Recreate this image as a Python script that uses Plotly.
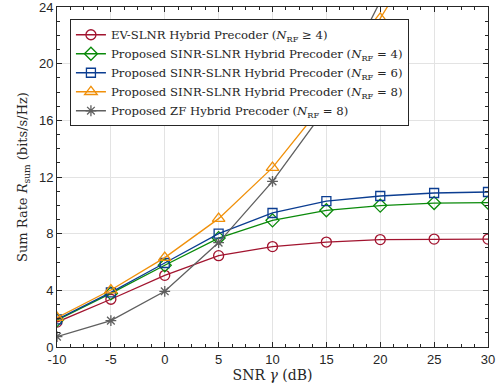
import plotly.graph_objects as go

snr = [-10, -5, 0, 5, 10, 15, 20, 25, 30]
ev_slnr = [1.76, 3.37, 5.06, 6.45, 7.09, 7.41, 7.58, 7.62, 7.62]
sinr_slnr_4 = [1.90, 3.78, 5.77, 7.69, 8.94, 9.65, 9.98, 10.16, 10.19]
sinr_slnr_6 = [1.95, 3.86, 5.93, 8.00, 9.46, 10.30, 10.66, 10.87, 10.94]
sinr_slnr_8 = [2.07, 4.02, 6.31, 9.06, 12.66, 17.4, 23.2, 29.6, 35.5]
zf_8 = [0.73, 1.86, 3.93, 7.37, 11.69, 16.9, 24.4, 31.5, 38.0]

names = [
    "EV-SLNR Hybrid Precoder (<i>N</i><sub>RF</sub> ≥ 4)",
    "Proposed SINR-SLNR Hybrid Precoder (<i>N</i><sub>RF</sub> = 4)",
    "Proposed SINR-SLNR Hybrid Precoder (<i>N</i><sub>RF</sub> = 6)",
    "Proposed SINR-SLNR Hybrid Precoder (<i>N</i><sub>RF</sub> = 8)",
    "Proposed ZF Hybrid Precoder (<i>N</i><sub>RF</sub> = 8)",
]
series = [ev_slnr, sinr_slnr_4, sinr_slnr_6, sinr_slnr_8, zf_8]
colors = ["#A2142F", "#0A8A0A", "#0B3D91", "#F0900A", "#5F5F5F"]
symbols = ["circle-open", "diamond-open", "square-open", "triangle-up-open", "asterisk-open"]
sizes = [10, 10, 9, 11, 9]

SERIF = "DejaVu Serif"
SANS = "Liberation Sans"

fig = go.Figure()
for n, ys, c, s, sz in zip(names, series, colors, symbols, sizes):
    fig.add_trace(go.Scatter(
        x=snr, y=ys, name=n, mode="lines+markers",
        line=dict(color=c, width=1.3),
        marker=dict(symbol=s, size=sz, color=c, line=dict(color=c, width=1.3)),
        cliponaxis=True,
    ))

axis_common = dict(
    showline=True, linecolor="#262626", linewidth=1, mirror="allticks",
    ticks="inside", ticklen=5, tickcolor="#262626", automargin=False,
    ticklabeloverflow="allow",
    showgrid=True, gridcolor="#E3E3E3", gridwidth=1, zeroline=False,
    tickfont=dict(family=SANS, size=13, color="#262626"),
)

fig.update_xaxes(
    range=[-10, 30], tickmode="array", tickvals=[-10, -5, 0, 5, 10, 15, 20, 25, 30],
    ticktext=["-10", "-5", "0", "5", "10", "15", "20", "25", "30"],
    minor=dict(dtick=1.25, tick0=-10, ticks="inside", ticklen=3, tickcolor="#262626", showgrid=False),
    title=dict(text="SNR <i>γ</i> (dB)", font=dict(family=SERIF, size=14, color="#262626"), standoff=2),
    **axis_common,
)
fig.update_yaxes(
    range=[0, 24], tickmode="array", tickvals=[0, 4, 8, 12, 16, 20, 24],
    minor=dict(dtick=1, tick0=0, ticks="inside", ticklen=3, tickcolor="#262626", showgrid=False),
    title=dict(text="Sum Rate <i>R</i><sub>sum</sub> (bits/s/Hz)", font=dict(family=SERIF, size=13, color="#262626"), standoff=8),
    **axis_common,
)

fig.update_layout(
    width=500, height=391,
    margin=dict(l=57, r=12, t=7, b=44),
    paper_bgcolor="white", plot_bgcolor="white",
    showlegend=True,
    legend=dict(
        x=0.03, y=0.964, xanchor="left", yanchor="top",
        bgcolor="white", bordercolor="#262626", borderwidth=1,
        font=dict(family=SERIF, size=11.7, color="#262626"),
        tracegroupgap=0, itemwidth=30,
    ),
)

fig.write_html("out.html", config={"displayModeBar": False},
               post_script="document.body.style.margin='0';document.body.style.padding='0';")
